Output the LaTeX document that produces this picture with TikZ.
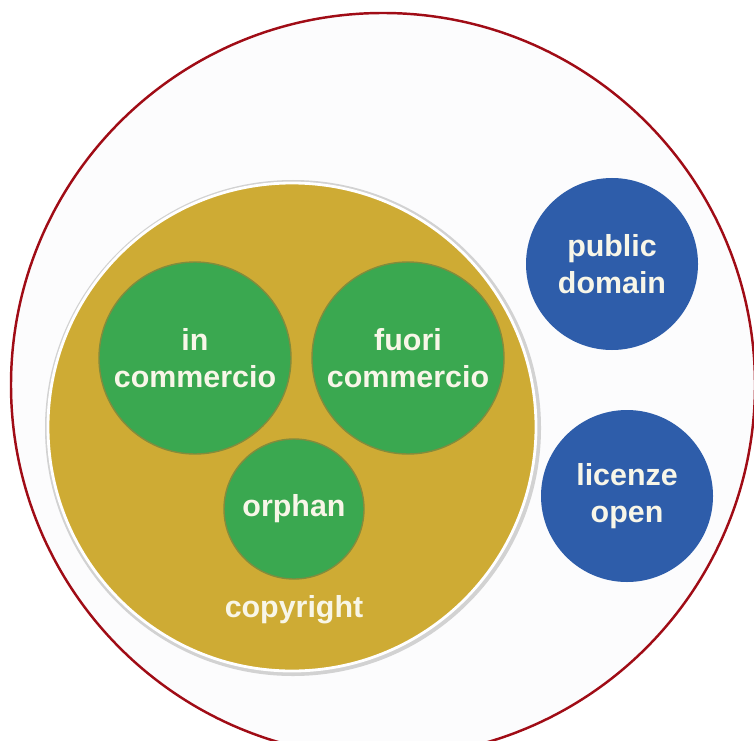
\documentclass[tikz,border=0pt]{standalone}
\usepackage{fontspec}
\setmainfont{Liberation Sans}
\usepackage{tikz}
\usetikzlibrary{positioning}
\definecolor{rimred}{RGB}{160,12,22}
\definecolor{paper}{RGB}{252,252,253}
\definecolor{mustard}{RGB}{206,171,52}
\definecolor{leaf}{RGB}{58,168,80}
\definecolor{leafrim}{RGB}{130,140,60}
\definecolor{cobalt}{RGB}{46,93,170}
\definecolor{cream}{RGB}{248,246,232}

\tikzset{
  blob/.style={circle,inner sep=0pt,align=center,text=cream,
    font=\bfseries\fontsize{17.3}{21}\selectfont},
  inblob/.style={blob,fill=leaf,draw=leafrim,line width=0.8pt},
  outblob/.style={blob,fill=cobalt}
}

\begin{document}
\begin{tikzpicture}
  \useasboundingbox (0,0) rectangle (15.08,14.8);
  % outer frame
  \node[circle,inner sep=0pt,minimum size=14.88cm,fill=paper,draw=rimred,
    line width=1.4pt] (outer) at (7.66,7.10) {};
  % copyright disc with its white rim and soft shadow
  \fill[gray!35] (5.86,6.24) circle (4.96cm);
  \node[circle,inner sep=0pt,minimum size=9.76cm,fill=mustard,draw=white,
    line width=1.6pt] (copyright) at (5.84,6.26) {};
  \node[inblob,minimum size=3.84cm] (incomm) at (3.90,7.64) {in\\commercio};
  \node[inblob,minimum size=3.84cm] (fuori) at (8.16,7.64) {fuori\\commercio};
  \node[inblob,minimum size=2.80cm] (orphan) at (5.88,4.62) {orphan};
  \node[text=cream,font=\bfseries\fontsize{17.3}{21}\selectfont]
    (cplabel) at (5.88,2.60) {copyright};
  % outside the copyright disc
  \node[outblob,minimum size=3.44cm] (pubdom) at (12.24,9.52) {public\\domain};
  \node[outblob,minimum size=3.44cm] (licopen) at (12.54,4.88) {licenze\\open};
\end{tikzpicture}
\end{document}
